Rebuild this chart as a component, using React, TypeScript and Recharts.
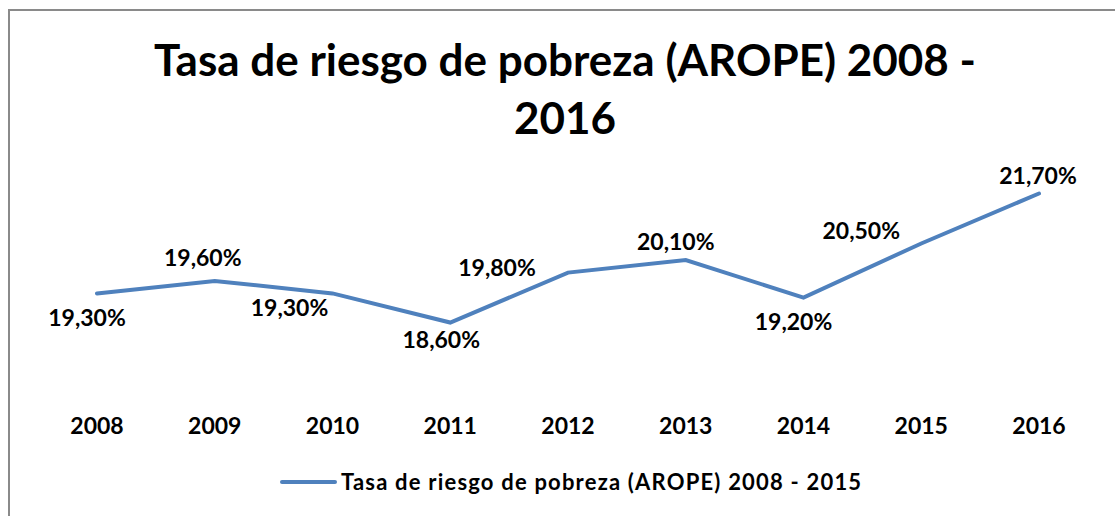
import React from "react";
import { LineChart, Line, XAxis, YAxis, Legend, LabelList } from "recharts";

const YEARS = ["2008", "2009", "2010", "2011", "2012", "2013", "2014", "2015", "2016"];
const RATES = [19.3, 19.6, 19.3, 18.6, 19.8, 20.1, 19.2, 20.5, 21.7];
const SERIES_NAME = "Tasa de riesgo de pobreza (AROPE) 2008 - 2015";
const TITLE_LINES = ["Tasa de riesgo de pobreza (AROPE) 2008 -", "2016"];

// label placement (center offset from point), presentation only
const LABEL_OFFSETS: [number, number][] = [
  [-10, 25],
  [-12, -23],
  [-43, 15],
  [-9, 17],
  [-71, -5],
  [-10, -18],
  [-10, 24],
  [-60, -12],
  [-1, -17],
];

const data = YEARS.map((y, i) => ({ year: y, rate: RATES[i] }));

const FONT = "Lato, 'Open Sans', sans-serif";
const LINE_COLOR = "#4f81bd";

const fmt = (v: number) => v.toFixed(2).replace(".", ",") + "%";

const DataLabel = (props: any) => {
  const { x, y, index, value } = props;
  const off = LABEL_OFFSETS[index] || [0, -15];
  return (
    <text
      x={x + off[0]}
      y={y + off[1] + 8}
      textAnchor="middle"
      fontFamily={FONT}
      fontWeight="bold"
      fontSize={23}
      fill="#000"
    >
      {fmt(Number(value))}
    </text>
  );
};

const LegendContent = () => (
  <div style={{ display: "flex", alignItems: "center", fontFamily: FONT }}>
    <svg width={57} height={10} style={{ display: "block" }}>
      <line x1={2} y1={5} x2={55} y2={5} stroke={LINE_COLOR} strokeWidth={4} strokeLinecap="round" />
    </svg>
    <span
      style={{
        fontWeight: "bold",
        fontSize: 22,
        letterSpacing: 1.2,
        color: "#000",
        marginLeft: 4,
        whiteSpace: "nowrap",
      }}
    >
      {SERIES_NAME}
    </span>
  </div>
);

export default function App() {
  return (
    <div
      style={{
        position: "absolute",
        left: 0,
        top: 0,
        width: 1115,
        height: 516,
        overflow: "hidden",
        background: "#fff",
      }}
    >
      <div
        style={{
          position: "absolute",
          left: 8,
          top: 9,
          width: 1200,
          height: 600,
          border: "2px solid #8a8a8a",
        }}
      />
      <svg width={1115} height={150} style={{ position: "absolute", left: 0, top: 0 }}>
        <text x={565} y={76} textAnchor="middle" fontFamily={FONT} fontWeight="bold" fontSize={44} fill="#000">
          {TITLE_LINES[0]}
        </text>
        <text x={565} y={134} textAnchor="middle" fontFamily={FONT} fontWeight="bold" fontSize={44} fill="#000">
          {TITLE_LINES[1]}
        </text>
      </svg>
      <div style={{ position: "absolute", left: 0, top: 0 }}>
        <LineChart
          width={1115}
          height={516}
          data={data}
          margin={{ top: 181, right: 76, left: 97, bottom: 76 }}
        >
          <XAxis
            dataKey="year"
            axisLine={false}
            tickLine={false}
            interval={0}
            height={30}
            tick={{ fontFamily: FONT, fontWeight: "bold", fontSize: 23, fill: "#000" }}
          />
          <YAxis hide domain={[16.5, 22]} />
          <Legend
            verticalAlign="middle"
            align="center"
            content={<LegendContent />}
            wrapperStyle={{ left: 280, top: 468, width: 700 }}
          />
          <Line
            type="linear"
            dataKey="rate"
            name={SERIES_NAME}
            stroke={LINE_COLOR}
            strokeWidth={4}
            strokeLinecap="round"
            dot={false}
            activeDot={false}
            isAnimationActive={false}
          >
            <LabelList dataKey="rate" content={<DataLabel />} />
          </Line>
        </LineChart>
      </div>
    </div>
  );
}
